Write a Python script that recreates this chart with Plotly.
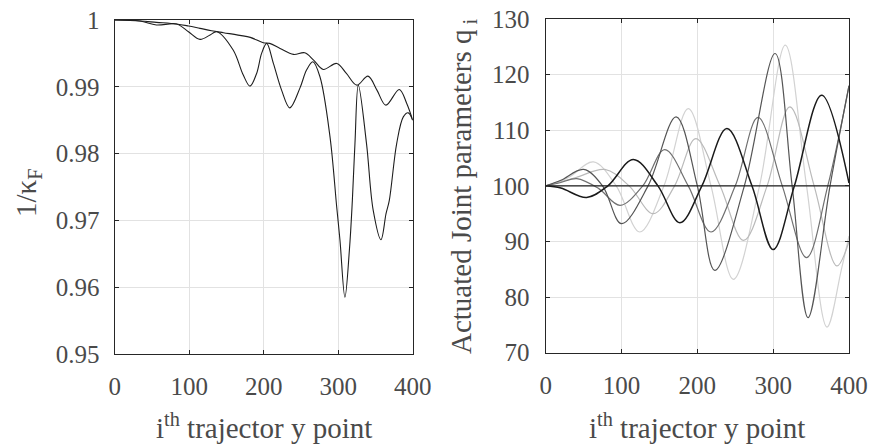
import plotly.graph_objects as go

# ---- left panel: inverse condition number along the trajectory ----
kA_x = [0, 34, 56, 83, 99, 114.5, 130, 146, 168, 182, 199.5, 208, 222, 240, 255, 267,
        280, 298, 311, 325, 340, 352, 364, 382, 392, 400]
kA_y = [1.0, 0.99985, 0.99965, 0.9994, 0.9991, 0.99875, 0.9984, 0.9981, 0.9977, 0.9974,
        0.9966, 0.9965, 0.99575, 0.99485, 0.9951, 0.9940, 0.9926, 0.9935, 0.9920, 0.99025,
        0.9916, 0.9895, 0.98725, 0.9896, 0.9875, 0.9850]

kB_x = [0, 34, 56, 83, 99, 114.5, 128, 137, 159, 172.6, 181.6, 190.5, 197.2, 204, 213, 224,
        235, 248.6, 257.5, 266, 275.5, 289, 298, 302.4, 309, 315, 319, 322.5, 327, 338, 347,
        357.4, 364.2, 368.6, 378.5, 387.4, 394, 400]
kB_y = [1.0, 0.99985, 0.99925, 0.9994, 0.99825, 0.9971, 0.99775, 0.99825, 0.9955, 0.99175,
        0.9901, 0.9920, 0.9950, 0.9965, 0.9935, 0.9895, 0.98685, 0.9898, 0.9925, 0.99375,
        0.9915, 0.9825, 0.9720, 0.9670, 0.9585, 0.96552, 0.9730, 0.9815, 0.99025, 0.9815,
        0.9715, 0.9671, 0.9710, 0.9730, 0.9815, 0.9855, 0.9861, 0.9850]

left_yticks = [0.95, 0.96, 0.97, 0.98, 0.99, 1.0]
left_ytext = ["0.95", "0.96", "0.97", "0.98", "0.99", "1"]

# ---- right panel: actuated joint parameters ----
qK_x = [0, 20, 54, 82, 115.6, 148, 177, 206, 239, 272, 300, 328, 364, 400]
qK_y = [100, 99.6, 97.9, 100, 104.75, 100, 93.35, 100, 110.3, 100, 88.56, 100, 116.3, 100.5]

qD_x = [0, 20, 50, 75, 100, 135, 172, 200, 223, 262, 302.5, 325, 346, 375, 400]
qD_y = [100, 101, 102.95, 100, 93.2, 100, 112.4, 100, 84.8, 100, 123.8, 100, 76.3, 100, 118]

qM_x = [0, 20, 41, 70, 98, 128, 157, 188, 218, 250, 280, 312, 344, 372, 400]
qM_y = [100, 100.6, 101.3, 99.5, 96.5, 100, 106.5, 100, 91.7, 100, 112.3, 100, 87.1, 100, 118]

qL1_x = [0, 30, 63, 93, 124, 156, 188, 218, 247.5, 282, 316, 344, 371, 390, 400]
qL1_y = [100, 101.5, 104.3, 100, 91.7, 100, 113.9, 100, 83.2, 100, 125.3, 100, 74.6, 85, 91]

qL2_x = [0, 40, 78, 110, 142, 170, 198, 230, 261, 292, 322, 354, 384, 400]
qL2_y = [100, 101.5, 102.95, 100, 95.0, 100, 108.5, 100, 90.2, 100, 114.2, 100, 85.6, 90]

qF_x = [0, 400]
qF_y = [100, 100]

right_yticks = [70, 80, 90, 100, 110, 120, 130]
x_ticks = [0, 100, 200, 300, 400]

FONT = "Times New Roman, Liberation Serif, Tinos, serif"
TXT = "#4a4a4a"
AX = "#262626"
GRID = "#e2e2e2"

fig = go.Figure()

def line(x, y, color, width, xa, ya):
    fig.add_trace(go.Scatter(x=x, y=y, mode="lines", xaxis=xa, yaxis=ya,
                             line=dict(color=color, width=width, shape="spline", smoothing=1.0),
                             showlegend=False, hoverinfo="skip"))

line(kA_x, kA_y, "#1e1e1e", 1.1, "x", "y")
line(kB_x, kB_y, "#1e1e1e", 1.1, "x", "y")

line(qL1_x, qL1_y, "#d2d2d2", 1.2, "x2", "y2")
line(qL2_x, qL2_y, "#bababa", 1.2, "x2", "y2")
line(qM_x, qM_y, "#707070", 1.2, "x2", "y2")
line(qD_x, qD_y, "#555555", 1.2, "x2", "y2")
line(qF_x, qF_y, "#1e1e1e", 1.3, "x2", "y2")
line(qK_x, qK_y, "#1a1a1a", 1.5, "x2", "y2")

axis_common = dict(showgrid=True, gridcolor=GRID, gridwidth=1, zeroline=False,
                   showline=True, linecolor=AX, linewidth=1.3, mirror="ticks",
                   ticks="inside", ticklen=4, tickwidth=1, tickcolor=AX, automargin=False,
                   tickfont=dict(size=25, color=TXT))

fig.update_layout(
    width=872, height=445, autosize=False,
    margin=dict(l=0, r=0, t=0, b=0, pad=0),
    font=dict(family=FONT, size=25, color=TXT),
    paper_bgcolor="white", plot_bgcolor="white",
    xaxis=dict(domain=[114.7 / 872, 412.7 / 872], range=[0, 400], tickvals=x_ticks,
               anchor="y", ticklabelstandoff=10, **axis_common),
    yaxis=dict(domain=[(445 - 354) / 445, (445 - 20) / 445], range=[0.95, 1.0],
               tickvals=left_yticks, ticktext=left_ytext, anchor="x",
               ticklabelstandoff=9, **axis_common),
    xaxis2=dict(domain=[545.7 / 872, 849 / 872], range=[0, 400], tickvals=x_ticks,
                anchor="y2", ticklabelstandoff=10, **axis_common),
    yaxis2=dict(domain=[(445 - 352.7) / 445, (445 - 19) / 445], range=[70, 130],
                tickvals=right_yticks, anchor="x2", ticklabelstandoff=10, **axis_common),
)

title_font = dict(family=FONT, size=29, color=TXT)
fig.add_annotation(text="i<sup>th</sup> trajector y point", x=263.7 / 872, y=(445 - 426) / 445,
                   xref="paper", yref="paper", showarrow=False, font=title_font,
                   xanchor="center", yanchor="middle")
fig.add_annotation(text="i<sup>th</sup> trajector y point", x=697.3 / 872, y=(445 - 426) / 445,
                   xref="paper", yref="paper", showarrow=False, font=title_font,
                   xanchor="center", yanchor="middle")
fig.add_annotation(text="1/κ<sub>F</sub>", x=28 / 872, y=(445 - 193) / 445,
                   xref="paper", yref="paper", showarrow=False, font=title_font,
                   textangle=-90, xanchor="center", yanchor="middle")
fig.add_annotation(text="Actuated Joint parameters q<sub> i</sub>", x=463 / 872, y=(445 - 186) / 445,
                   xref="paper", yref="paper", showarrow=False, font=title_font,
                   textangle=-90, xanchor="center", yanchor="middle")

fig.write_html("out.html")
